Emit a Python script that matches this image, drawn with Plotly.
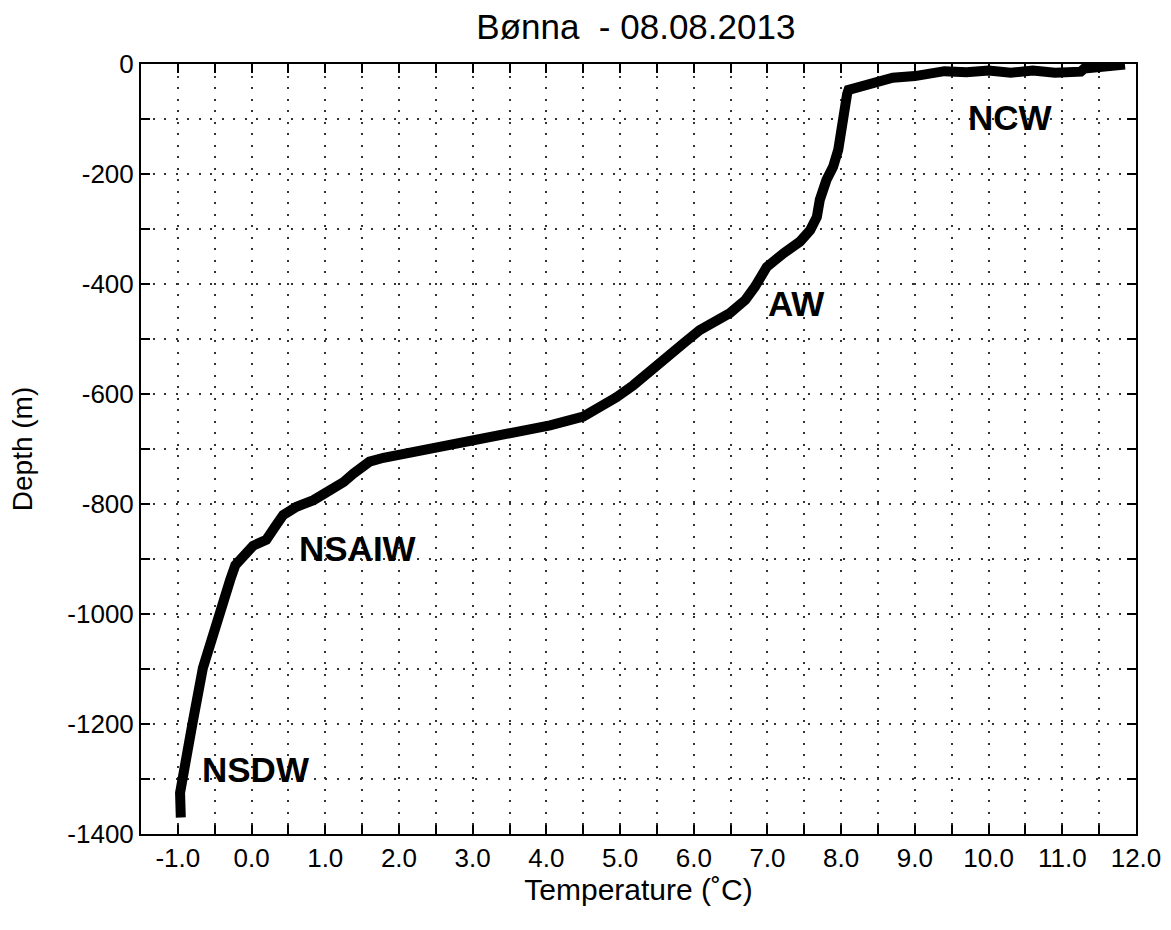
import plotly.graph_objects as go

# ---- data ----
temperature = [11.85, 11.55, 11.30, 11.25, 10.90, 10.60, 10.30, 10.00, 9.70, 9.40,
               9.20, 9.00, 8.70, 8.55, 8.40, 8.20, 8.10, 8.08, 8.07, 8.03,
               7.96, 7.89, 7.80, 7.71, 7.67, 7.58, 7.44, 7.22, 6.99, 6.83,
               6.70, 6.49, 6.31, 6.08, 5.86, 5.55, 5.35, 5.18, 4.95, 4.73,
               4.50, 4.05, 3.60, 2.96, 2.47, 2.01, 1.79, 1.60, 1.50, 1.38,
               1.25, 1.02, 0.84, 0.61, 0.43, 0.32, 0.20, 0.02, -0.11, -0.22,
               -0.29, -0.40, -0.54, -0.66, -0.80, -0.93, -0.97, -0.96]
depth = [-1, -4, -8, -14, -16, -12, -16, -12, -15, -13,
         -18, -22, -25, -30, -35, -40, -47, -55, -65, -114,
         -156, -187, -211, -247, -278, -302, -323, -344, -369, -405,
         -429, -453, -465, -484, -508, -544, -565, -584, -606, -623,
         -641, -657, -668, -684, -696, -708, -716, -723, -732, -745,
         -760, -778, -793, -805, -820, -841, -865, -876, -893, -911,
         -938, -987, -1035, -1098, -1198, -1298, -1325, -1370]

label_names = ["NCW", "AW", "NSAIW", "NSDW"]
label_temps = [10.29, 7.39, 1.44, 0.06]
label_depths = [-98, -435, -880, -1282]

x_tick_vals = [-1.5 + 0.5 * i for i in range(28)]
x_tick_text = [("%.1f" % v) if abs(v - round(v)) < 1e-9 else "" for v in x_tick_vals]
y_tick_vals = [-1400 + 100 * i for i in range(15)]
y_tick_text = [str(v) if v % 200 == 0 else "" for v in y_tick_vals]

title_text = "Bønna  - 08.08.2013"
x_title = "Temperature (˚C)"
y_title = "Depth (m)"

FONT = "Liberation Sans, Arial, sans-serif"

fig = go.Figure()
fig.add_trace(go.Scatter(x=temperature, y=depth, mode="lines",
                         line=dict(color="black", width=10), showlegend=False,
                         hoverinfo="skip"))

for name, t, d in zip(label_names, label_temps, label_depths):
    fig.add_annotation(x=t, y=d, text="<b>%s</b>" % name, showarrow=False,
                       font=dict(family=FONT, size=35, color="black"))

axis_common = dict(
    showline=True, linecolor="black", linewidth=2, mirror="ticks",
    ticks="inside", ticklen=9, tickwidth=2, tickcolor="black",
    showgrid=True, gridcolor="#333333", gridwidth=2, griddash="2px,9.5px",
    zeroline=False, tickfont=dict(family=FONT, size=26, color="black"),
    tickmode="array", automargin=False,
)

fig.update_xaxes(range=[-1.5, 12.0], tickvals=x_tick_vals, ticktext=x_tick_text,
                 title=dict(text=x_title, font=dict(family=FONT, size=30, color="black"),
                            standoff=2),
                 **axis_common)
fig.update_yaxes(range=[-1400, 0], tickvals=y_tick_vals, ticktext=y_tick_text,
                 title=dict(text=y_title, font=dict(family=FONT, size=28, color="black"),
                            standoff=26),
                 **axis_common)

fig.update_layout(
    width=1171, height=930,
    margin=dict(l=141, r=35, t=64, b=96),
    paper_bgcolor="white", plot_bgcolor="white",
    title=dict(text=title_text, x=0.543, xanchor="center", y=0.971, yanchor="middle",
               font=dict(family=FONT, size=35, color="black")),
)

fig.write_html("out.html", config={"displayModeBar": False},
               post_script="document.body.style.margin='0px';document.body.style.overflow='hidden';")
